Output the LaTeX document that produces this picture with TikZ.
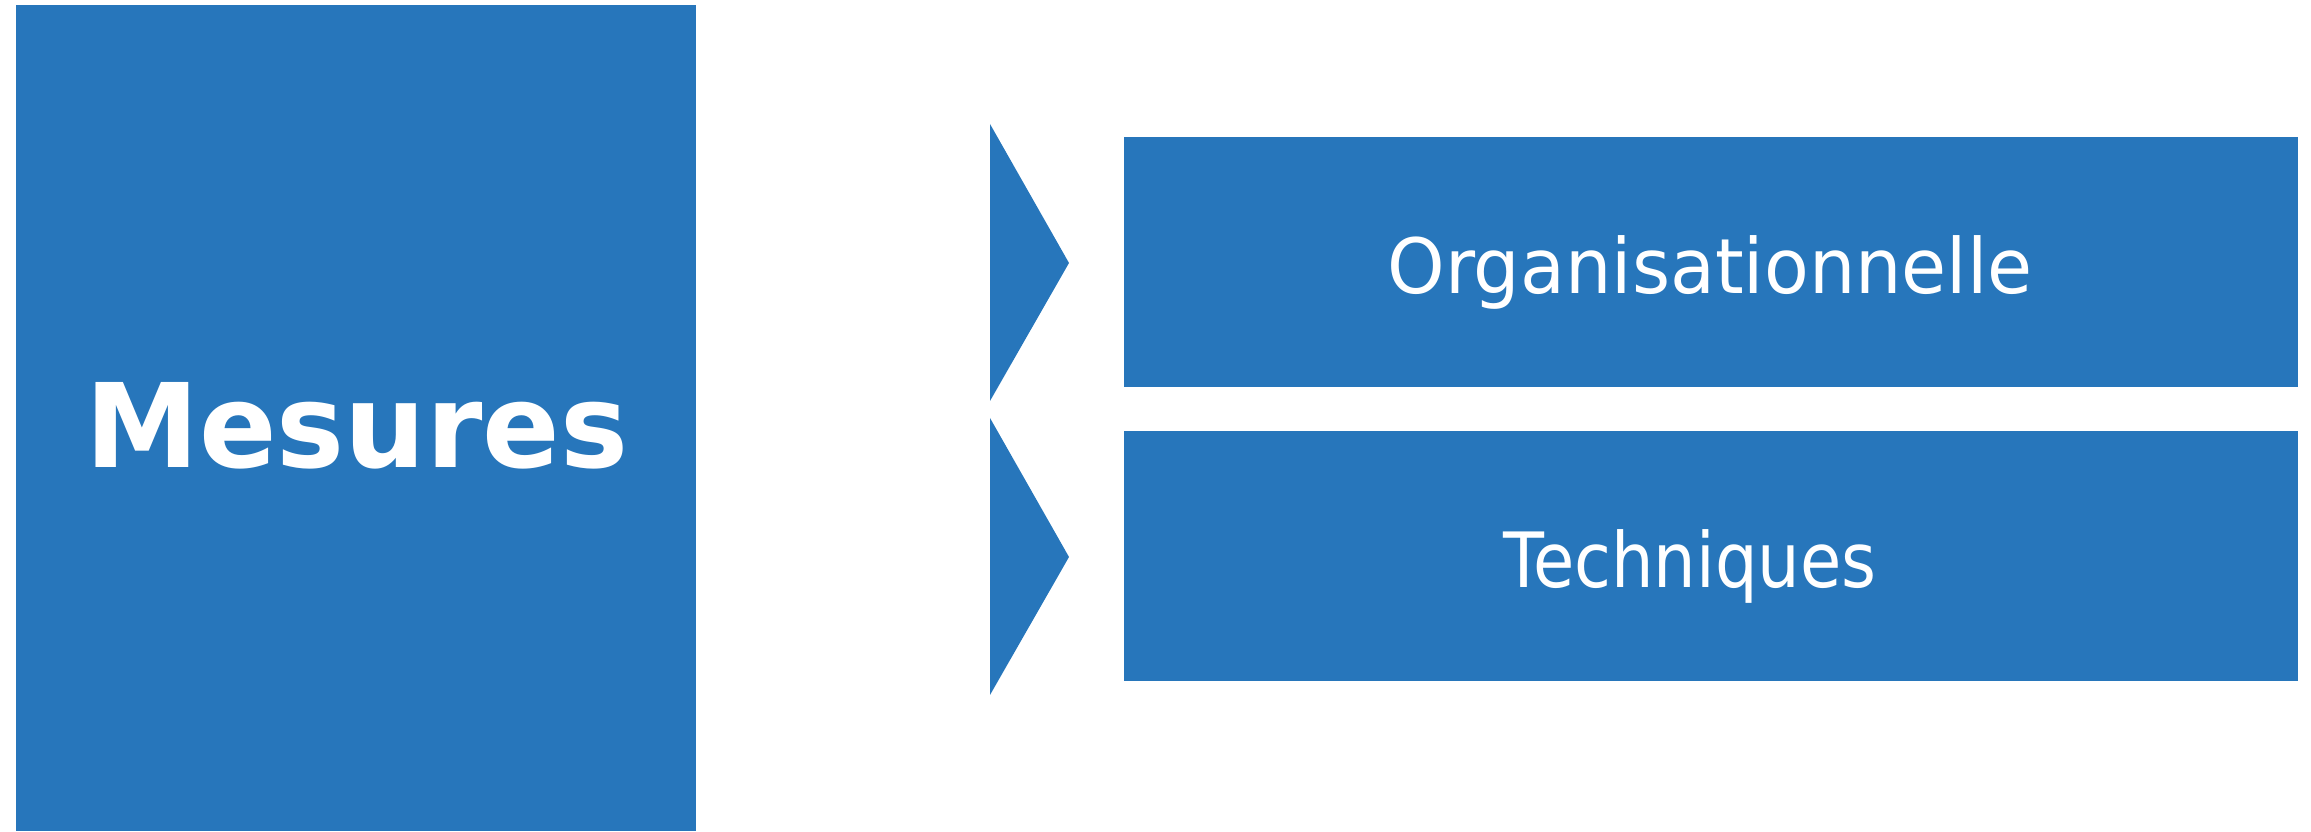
\documentclass[tikz,border=0pt]{standalone}
\usepackage{fontspec}
\usepackage{graphicx}
\setmainfont{DejaVu Sans}
\definecolor{mesblue}{RGB}{39,118,187}
\newcommand{\narrowtxt}[2]{\scalebox{#1}[1]{#2}}
\begin{document}
\begin{tikzpicture}[x=1cm,y=1cm,
  blk/.style={rectangle, fill=mesblue, inner sep=0pt, anchor=south west},
  lbl/.style={text=white, inner sep=0pt, anchor=base}]
\useasboundingbox (0,0) rectangle (23.11,8.32);
\node[blk, minimum width=6.80cm, minimum height=8.26cm] (mes) at (0.15,0){};
\node[blk, minimum width=11.74cm, minimum height=2.50cm] (org) at (11.23,4.44){};
\node[blk, minimum width=11.74cm, minimum height=2.50cm] (tech) at (11.23,1.50){};
\fill[mesblue] (9.90,7.08) -- (10.69,5.69) -- (9.90,4.31) -- cycle;
\fill[mesblue] (9.90,4.14) -- (10.69,2.75) -- (9.90,1.37) -- cycle;
\node[lbl, font=\bfseries\fontsize{33.2}{40}\selectfont] (tmes) at (3.57,3.64){\narrowtxt{0.98}{Mesures}};
\node[lbl, font=\fontsize{21.7}{26}\selectfont] (torg) at (17.10,5.38){\narrowtxt{0.96}{Organisationnelle}};
\node[lbl, font=\fontsize{21.7}{26}\selectfont] (ttech) at (16.90,2.44){\narrowtxt{0.88}{Techniques}};

\end{tikzpicture}
\end{document}
